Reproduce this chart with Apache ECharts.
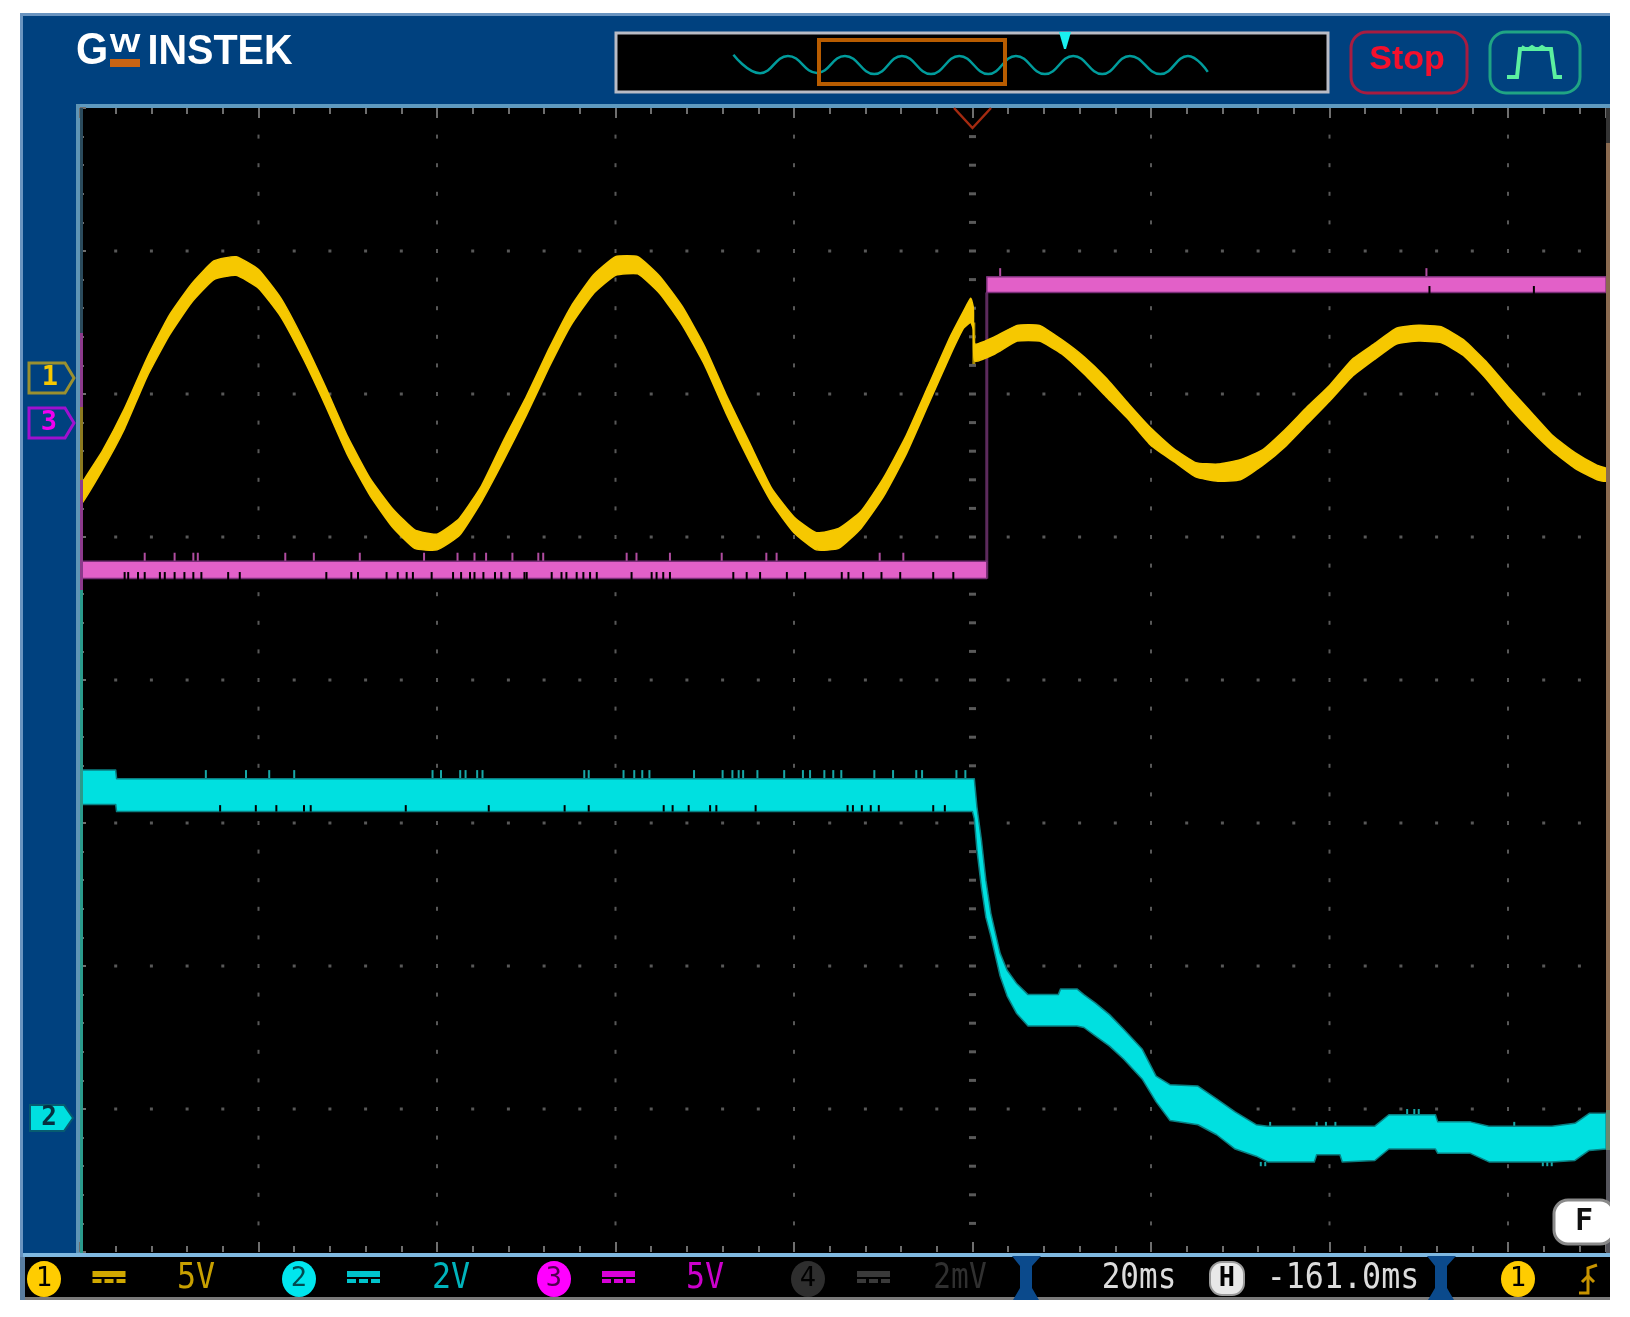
<!DOCTYPE html>
<html>
<head>
<meta charset="utf-8">
<title>GW Instek scope capture</title>
<script src="https://cdn.jsdelivr.net/npm/echarts@6/dist/echarts.min.js"></script>
<style>
html,body{margin:0;padding:0;background:#fff;}
#main{width:1630px;height:1317px;filter:blur(0.7px);}
</style>
</head>
<body>
<div id="main"></div>
<script>
// all traces: time in ms from the trigger, level in divisions from screen centre
var ch1Time = [-100,-97.5,-95,-92.5,-90,-87.5,-85,-82.5,-80,-77.5,-75,-72.5,-70,-67.5,-65,-62.5,-60,-57.5,-55,-52.5,-50,-47.5,-45,-42.5,-40,-37.5,-35,-32.5,-30,-27.5,-25,-22.5,-20,-17.5,-15,-12.5,-10,-7.5,-5,-2.5,-1,-0.2,0.1,0.25,2.5,5,7.5,10,12.5,15,17.5,20,22.5,25,27.5,30,32.5,35,37.5,40,42.5,45,47.5,50,52.5,55,57.5,60,62.5,65,67.5,70,71];
var ch1High = [1.35,1.60,1.90,2.25,2.55,2.77,2.93,2.96,2.87,2.67,2.38,2.05,1.70,1.41,1.20,1.05,1.02,1.13,1.36,1.68,1.98,2.31,2.61,2.83,2.96,2.96,2.82,2.61,2.33,1.98,1.66,1.34,1.14,1.03,1.06,1.18,1.41,1.70,2.05,2.40,2.58,2.67,2.60,2.35,2.40,2.48,2.48,2.38,2.26,2.11,1.93,1.76,1.62,1.52,1.51,1.54,1.61,1.75,1.91,2.06,2.24,2.35,2.46,2.48,2.47,2.38,2.23,2.05,1.88,1.71,1.59,1.50,1.48];
var ch1Low  = [1.22,1.47,1.76,2.12,2.41,2.64,2.80,2.83,2.74,2.54,2.25,1.92,1.57,1.29,1.07,0.92,0.91,1.01,1.25,1.54,1.85,2.18,2.48,2.70,2.83,2.84,2.70,2.48,2.20,1.85,1.53,1.24,1.03,0.91,0.92,1.06,1.28,1.57,1.92,2.27,2.46,2.50,2.45,2.23,2.28,2.37,2.37,2.28,2.14,1.98,1.82,1.64,1.53,1.42,1.39,1.40,1.50,1.63,1.79,1.95,2.12,2.24,2.35,2.37,2.36,2.27,2.11,1.92,1.75,1.60,1.48,1.40,1.39];
var ch1Drop = [[0.15,2.5],[0.15,2.21]];

var ch2Time = [-100,-96,-95.9,0,0.2,0.5,1,1.5,2.05,2.57,3.09,3.88,4.92,6.22,9.61,9.87,11.7,12.48,13.79,15.35,16.92,19,20.57,22.13,25.26,27.35,29.43,31.78,33.09,38.3,38.56,41.17,41.43,45.08,46.65,51.87,52.13,55.78,57.87,64.9,67.5,69.1,71];
var ch2High = [-0.63,-0.63,-0.69,-0.69,-0.69,-0.89,-1.12,-1.40,-1.63,-1.77,-1.91,-2.03,-2.12,-2.20,-2.20,-2.16,-2.16,-2.20,-2.26,-2.34,-2.44,-2.58,-2.77,-2.83,-2.84,-2.93,-3.02,-3.11,-3.12,-3.12,-3.12,-3.12,-3.12,-3.12,-3.04,-3.04,-3.09,-3.09,-3.12,-3.12,-3.10,-3.03,-3.03];
var ch2Low  = [-0.87,-0.87,-0.92,-0.92,-0.97,-1.19,-1.45,-1.66,-1.79,-1.93,-2.07,-2.21,-2.33,-2.42,-2.42,-2.42,-2.42,-2.43,-2.49,-2.56,-2.65,-2.79,-2.95,-3.08,-3.11,-3.18,-3.28,-3.33,-3.37,-3.37,-3.32,-3.32,-3.37,-3.36,-3.28,-3.28,-3.31,-3.31,-3.37,-3.37,-3.36,-3.29,-3.28];
var ch2SpikesUp = [-85.9,-81.4,-78.8,-76,-60.5,-59.55,-57.4,-56.8,-55.5,-54.9,-43.5,-43,-39.1,-37.9,-37,-36.2,-31.2,-28,-26.9,-26.2,-25.7,-24.1,-21.1,-19,-18.2,-16.6,-15.6,-14.7,-11,-8.9,-6.3,-5.65,-1.8,-0.8];
var ch2Notches = [-84.3,-80.3,-78,-74.9,-74.15,-63.5,-54.2,-45.7,-43,-34.6,-33.6,-31.8,-29.4,-28.7,-24.3,-14,-13.4,-12.4,-11.4,-10.5,-4.4,-3.1];
var ch2LateUp = [33.35,38.56,39.6,40.66,60.7];
var ch2LatePeak = [48.7,49.5,50];
var ch2LateDown = [32.3,32.8,63.9,64.4,64.9];

var ch3Time = [-100,1.6,1.6,71];
var ch3High = [0.83,0.83,2.82,2.82];
var ch3Low  = [0.71,0.71,2.71,2.71];
var ch3Edge = [[1.6,0.71],[1.6,2.71]];
var ch3SpikesUp = [-92.75,-89.4,-87.3,-86.8,-77,-73.8,-68.65,-61.45,-57.7,-55.8,-54.5,-51.55,-48.65,-48.1,-38.75,-37.65,-33.9,-28.1,-23.1,-21.95,-10.4,-7.75];
var ch3Notches = [-95,-94.6,-93.5,-92.75,-91.05,-90.5,-89.4,-88.3,-87.3,-86.4,-83.4,-82.1,-72.4,-69.6,-68.85,-65.65,-64.4,-63.4,-62.7,-60.6,-58.2,-57.3,-56.3,-55.8,-54.8,-53.5,-52.8,-51.85,-50.2,-49.95,-47.15,-46.05,-45.5,-44.35,-43.6,-42.85,-42.1,-38.2,-35.95,-35.4,-34.65,-33.9,-26.8,-25.3,-23.8,-20.8,-18.75,-14.65,-13.9,-12.25,-10.2,-8.1,-4.4,-2.15];
var ch3HighUp = [3.1,50.86];
var ch3HighNotches = [51.2,62.9];

// record overview strip at the top
var overviewX = [16.3,20.06,24,28.1,32.06,36.2,40.1,44.2,48.2,52.3,56.2,60.3,64.3,68.4,72.3,76.6,80.5,83.3];
var overviewY = [6.4,3.04,6.2,3.1,6.2,2.9,6.2,2.9,6.2,2.9,6.2,2.9,6.2,2.9,6.2,2.9,6.2,3.3];

var channelLabels = ['5V','2V','5V','2mV'];
var timebaseLabel = '20ms';
var delayLabel = '-161.0ms';

var YELLOW = '#f6c800', CYAN = '#00e0e0', PINK = '#e260c8', PANEL = '#00417f';
var T_MIN = -100, T_MAX = 71;

function makeBand(ts, hi, lo, fill, stroke, z, lineW, smooth){
	return {
		type:'custom',
		coordinateSystem:'cartesian2d',
		xAxisIndex:0,
		yAxisIndex:0,
		z:z,
		silent:true,
		clip:true,
		data:ts.map(function(t,i){ return [t,hi[i],lo[i]]; }),
		encode:{x:0,y:[1,2]},
		renderItem:function(params,api){
			if (params.dataIndex !== 0) {
				return null;
			}
			var pts = [];
			for (var i = 0; i < ts.length; i++) {
				pts.push(api.coord([ts[i],hi[i]]));
			}
			for (var j = ts.length-1; j >= 0; j--) {
				pts.push(api.coord([ts[j],lo[j]]));
			}
			return {type:'polygon',shape:{points:pts,smooth:smooth||0},style:{fill:fill,stroke:stroke,lineWidth:lineW||1.5,lineJoin:'round'}};
		}
	};
}

// short vertical marks: glitches above a band, dark slits in its lower edge
function makeSpikes(times, y0, y1, color, z){
	return {
		type:'custom',
		coordinateSystem:'cartesian2d',
		xAxisIndex:0,
		yAxisIndex:0,
		z:z,
		silent:true,
		data:times.map(function(t){ return [t,y0,y1]; }),
		encode:{x:0,y:[1,2]},
		renderItem:function(params,api){
			var a = api.coord([api.value(0),api.value(1)]);
			var b = api.coord([api.value(0),api.value(2)]);
			return {type:'rect',shape:{x:a[0]-1,y:Math.min(a[1],b[1]),width:2,height:Math.abs(b[1]-a[1])},style:{fill:color}};
		}
	};
}

// graticule dots, one size per kind
function graticule(){
	var normal = [], xMajor = [], centreV = [];
	var x, y, i;
	for (x = -80; x <= 60; x += 20) {
		for (i = -19; i <= 19; i++) {
			y = i/5;
			if (x === 0) {
				centreV.push([x,y]);
			} else {
				xMajor.push([x,y]);
			}
		}
	}
	for (y = -3; y <= 3; y++) {
		for (i = -24; i <= 17; i++) {
			x = i*4;
			if (x % 20 !== 0) {
				normal.push([x,y]);
			}
		}
	}
	function dots(data,size,color){
		return {type:'scatter',symbol:'rect',symbolSize:size,data:data,xAxisIndex:0,yAxisIndex:0,z:1,silent:true,itemStyle:{color:color}};
	}
	return [dots(normal,[3,3],'#6e6e6e'),dots(xMajor,[2,4],'#6e6e6e'),dots(centreV,[7,3],'#707070')];
}

function rect(x,y,w,h,fill,z,r){
	return {type:'rect',z:z,silent:true,shape:{x:x,y:y,width:w,height:h,r:r||0},style:{fill:fill}};
}
function box(x,y,w,h,stroke,lw,r,fill,z){
	return {type:'rect',z:z||50,silent:true,shape:{x:x,y:y,width:w,height:h,r:r||0},style:{fill:fill||'transparent',stroke:stroke,lineWidth:lw}};
}
function txt(str,x,y,size,color,opt){
	opt = opt || {};
	return {type:'text',z:60,silent:true,x:x,y:y,scaleX:opt.scaleX||1,style:{text:str,x:0,y:0,fontSize:size,fontFamily:opt.family||'DejaVu Sans Mono',fontWeight:opt.weight||'normal',fill:color,textAlign:opt.align||'center',textVerticalAlign:'middle'}};
}
function poly(points,stroke,lw,z){
	return {type:'polyline',z:z||50,silent:true,shape:{points:points},style:{stroke:stroke,lineWidth:lw,fill:'transparent'}};
}
function ell(cx,cy,rx,ry,fill){
	return {type:'ellipse',z:55,silent:true,shape:{cx:cx,cy:cy,rx:rx,ry:ry},style:{fill:fill}};
}
function dcMark(x,color){
	var out = [rect(x,1271,33,6,color,55)];
	for (var i = 0; i < 3; i++) {
		out.push(rect(x+i*12,1279,9,4,color,55));
	}
	return out;
}
function hourglass(x){
	return {type:'polygon',z:52,silent:true,shape:{points:[[x,1256],[x+29,1256],[x+20,1266],[x+20,1288],[x+27,1300],[x+1,1300],[x+8,1288],[x+8,1266]]},style:{fill:'#0b4a8c'}};
}

var chrome = [
	// page frame
	rect(20,13,1590,1287,'#6a94c0',0),
	rect(23,16,1587,1284,PANEL,0),
	rect(76,104,1534,4,'#5f9ac0',0),
	rect(76,104,4,1150,'#5f94b4',0),
	// scope screen and overview backgrounds
	rect(80,108,1530,1146,'#000000',0),
	rect(616,33,712,59,'#000000',0),
	// logo
	txt('G',92,52,45,'#ffffff',{family:'Liberation Sans',weight:'bold',scaleX:0.92}),
	txt('W',125,45,26,'#ffffff',{family:'Liberation Sans',weight:'bold',scaleX:1.25}),
	rect(110,59,30,8,'#c86414',60),
	txt('INSTEK',220,52,43,'#ffffff',{family:'Liberation Sans',weight:'bold',scaleX:0.92}),
	// overview frame
	box(616,33,712,59,'#b9bcc6',3,0,'transparent',50),
	box(819,40,186,44,'#b85c00',4,0,'transparent',50),
	{type:'polygon',z:55,silent:true,shape:{points:[[1059,32],[1071,32],[1066,49],[1064,49]]},style:{fill:'#19f0f0'}},
	// run/stop
	box(1351,32,116,61,'#a81c40',3,16),
	txt('Stop',1407,60,34,'#f4102c',{family:'Liberation Sans',weight:'bold'}),
	box(1490,32,90,61,'#20a484',3,16),
	poly([[1507,77],[1517,77],[1520,49],[1551,49],[1555,77],[1562,77]],'#5cf0a0',4),
	poly([[1522,46],[1527,49],[1532,46],[1537,49],[1542,46],[1547,49]],'#5cf0a0',2),
	// trigger position
	poly([[954,108],[972.5,128],[991,108]],'#a42a10',2.5),
	// coloured strips on the screen edges
	rect(80,108,3,225,'#2a4a5c',20),
	rect(80,333,3,74,'#8c3a8c',20),
	rect(80,407,3,73,'#8c7a20',20),
	rect(80,480,3,110,'#8c3a8c',20),
	rect(80,590,3,664,'#2a9a8c',20),
	rect(1606,108,4,35,'#343434',20),
	rect(1606,143,4,967,'#8a6a50',20),
	rect(1606,1110,4,40,'#6a8a70',20),
	rect(1606,1150,4,104,'#55555c',20),
	// channel offset tabs
	{type:'polygon',z:50,silent:true,shape:{points:[[29,363],[65,363],[74,378],[65,393],[29,393]]},style:{fill:'transparent',stroke:'#9a9030',lineWidth:3}},
	txt('1',50,378,27,'#f6c800',{weight:'bold'}),
	{type:'polygon',z:50,silent:true,shape:{points:[[29,408],[65,408],[74,423],[65,438],[29,438]]},style:{fill:'transparent',stroke:'#a010d0',lineWidth:3}},
	txt('3',49,423,27,'#f000f0',{weight:'bold'}),
	{type:'polygon',z:50,silent:true,shape:{points:[[30,1105],[64,1105],[73,1118],[64,1131],[30,1131]]},style:{fill:CYAN,stroke:'#075c70',lineWidth:2}},
	txt('2',49,1118,26,'#063040',{weight:'bold'}),
	// F tag
	box(1554,1200,60,44,'#8a8a8a',3,14,'#ffffff',50),
	txt('F',1584,1222,30,'#101010',{weight:'bold'}),
	rect(1610,1190,20,70,'#ffffff',51),
	// bottom status bar
	rect(23,1253,1587,4,'#7fb8e0',40),
	rect(23,1257,1587,40,'#000000',40),
	rect(20,1297,1590,3,'#7a7a7a',40),
	rect(20,1257,5,43,'#5a7ea0',41),
	hourglass(1012),
	hourglass(1427),
	ell(44,1279,17,18,'#ffcc00'),
	txt('1',44,1279,27,'#000000'),
	ell(299,1279,17,18,'#00e6ee'),
	txt('2',299,1279,27,'#004a50'),
	ell(554,1279,17,18,'#ff00ff'),
	txt('3',554,1279,27,'#500050'),
	ell(808,1279,17,18,'#2e2e2e'),
	txt('4',808,1279,27,'#000000'),
	txt(channelLabels[0],196,1279,36,'#c8a000',{scaleX:0.88}),
	txt(channelLabels[1],451,1279,36,'#00b4bc',{scaleX:0.88}),
	txt(channelLabels[2],705,1279,36,'#cc00cc',{scaleX:0.88}),
	txt(channelLabels[3],960,1279,36,'#303030',{scaleX:0.82}),
	txt(timebaseLabel,1139,1279,36,'#dcdcdc',{scaleX:0.86}),
	{type:'rect',z:55,silent:true,shape:{x:1210,y:1262,width:34,height:33,r:12},style:{fill:'#e8e8e8',stroke:'#9a9a9a',lineWidth:2}},
	txt('H',1227,1279,27,'#000000',{weight:'bold'}),
	txt(delayLabel,1343,1279,36,'#dcdcdc',{scaleX:0.88}),
	ell(1518,1279,17,18,'#ffcc00'),
	txt('1',1518,1279,27,'#000000'),
	poly([[1579,1293],[1588,1293],[1588,1268],[1597,1265]],'#c89400',3,55),
	poly([[1582,1282],[1588,1276],[1594,1282]],'#c89400',3,55)
].concat(dcMark(92.5,'#d0a800'),dcMark(347,'#00c4cc'),dcMark(602,'#d800d8'),dcMark(857,'#3a3a3a'));

var traceSeries = [
	makeBand(ch3Time.slice(0,2),ch3High.slice(0,2),ch3Low.slice(0,2),PINK,'#7a2f78',4),
	makeBand(ch3Time.slice(2),ch3High.slice(2),ch3Low.slice(2),PINK,'#7a2f78',4),
	{type:'line',data:ch3Edge,xAxisIndex:0,yAxisIndex:0,symbol:'none',z:3,silent:true,lineStyle:{color:'#5c2a5c',width:3}},
	makeSpikes(ch3SpikesUp,0.83,0.89,'#b04ca0',3),
	makeSpikes(ch3Notches,0.70,0.755,'#000000',5),
	makeSpikes(ch3HighUp,2.82,2.88,'#b04ca0',3),
	makeSpikes(ch3HighNotches,2.69,2.755,'#000000',5),
	makeBand(ch1Time,ch1High,ch1Low,YELLOW,YELLOW,6,1.5,0.15),
	{type:'line',data:ch1Drop,xAxisIndex:0,yAxisIndex:0,symbol:'none',z:5,silent:true,lineStyle:{color:'#a88a00',width:3}},
	makeBand(ch2Time,ch2High,ch2Low,CYAN,'#0a7f82',6),
	makeSpikes(ch2SpikesUp,-0.69,-0.63,'#18a8a8',5),
	makeSpikes(ch2Notches,-0.92,-0.875,'#000000',7),
	makeSpikes(ch2LateUp,-3.12,-3.09,'#18a8a8',5),
	makeSpikes(ch2LatePeak,-3.04,-3.0,'#18a8a8',5),
	makeSpikes(ch2LateDown,-3.40,-3.37,'#18a8a8',5),
	{
		type:'line',
		xAxisIndex:2,
		yAxisIndex:1,
		data:overviewX.map(function(x,i){ return [x,overviewY[i]]; }),
		symbol:'none',
		smooth:0.45,
		silent:true,
		lineStyle:{color:'#009c9c',width:2.5}
	}
];

function timeAxis(position){
	return {
		type:'value',
		gridIndex:0,
		position:position,
		min:T_MIN,
		max:T_MAX,
		interval:20,
		axisLine:{show:false,onZero:false},
		axisLabel:{show:false},
		splitLine:{show:false},
		axisTick:{show:true,inside:true,length:10,lineStyle:{color:'#6e6e6e',width:2}},
		minorTick:{show:true,splitNumber:5,length:6,lineStyle:{color:'#6e6e6e',width:2}}
	};
}

var option = {
	animation:false,
	backgroundColor:'#ffffff',
	grid:[
		{left:80,top:108,width:1526.18,height:1144,borderWidth:0},
		{left:618,top:35,width:708,height:55,borderWidth:0}
	],
	xAxis:[
		timeAxis('bottom'),
		timeAxis('top'),
		{type:'value',gridIndex:1,min:0,max:100,show:false}
	],
	yAxis:[
		{
			type:'value',
			gridIndex:0,
			position:'left',
			min:-4,
			max:4,
			interval:1,
			axisLine:{show:false,onZero:false},
			axisLabel:{show:false},
			splitLine:{show:false},
			axisTick:{show:true,inside:true,length:6,lineStyle:{color:'#6e6e6e',width:2}},
			minorTick:{show:true,splitNumber:5,length:4,lineStyle:{color:'#6e6e6e',width:2}}
		},
		{type:'value',gridIndex:1,min:0,max:10,show:false}
	],
	graphic:{elements:chrome},
	series:graticule().concat(traceSeries)
};

var chart = echarts.init(document.getElementById('main'));
chart.setOption(option);
</script>
</body>
</html>
